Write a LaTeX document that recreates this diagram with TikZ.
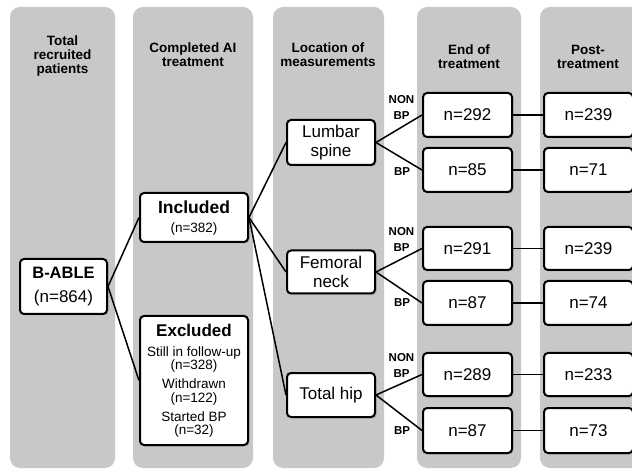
\documentclass[tikz,border=0pt]{standalone}
\usepackage{fontspec}
\setmainfont{Liberation Sans}
\usetikzlibrary{shadows}
\definecolor{colbg}{RGB}{200,200,200}
\tikzset{
  colbox/.style={fill=colbg, draw=none, rounded corners=10pt},
  head/.style={font=\fontsize{13.5}{14}\selectfont\bfseries, align=center, inner sep=0pt},
  wbox/.style={draw=black, line width=2pt, fill=white, rounded corners=4pt,
     drop shadow={opacity=0.35, shadow xshift=1.5pt, shadow yshift=-1.5pt},
     inner sep=0pt, align=center, font=\fontsize{17}{19}\selectfont},
  txt/.style={inner sep=0pt, align=center},
  bplab/.style={font=\fontsize{11.5}{16}\selectfont\bfseries, align=center, inner sep=0pt},
  conn/.style={draw=black, line width=1.5pt},
}
\begin{document}
\begin{tikzpicture}[x=1pt,y=-1pt]
\useasboundingbox (0,0) rectangle (632,470);
\begin{scope}
\clip (0,0) rectangle (632,470);
% columns
\fill[colbox] (10,7) rectangle (115,468);
\fill[colbox] (133,7) rectangle (253,468);
\fill[colbox] (273,7) rectangle (384,468);
\fill[colbox] (417,7) rectangle (521,468);
\fill[colbox] (540,7) rectangle (660,468);
% headings
\node[head] (h1) at (62.5,56) {Total\\recruited\\patients};
\node[head] (h2) at (193,55) {Completed AI\\treatment};
\node[head] (h3) at (328,55) {Location of\\measurements};
\node[head] (h4) at (469,56.5) {End of\\treatment};
\node[head] (h5) at (588,56.5) {Post-\\treatment};
% first column
\node[wbox, minimum width=87pt, minimum height=55pt] (bable) at (63.5,286.5) {};
\node[txt, font=\fontsize{16.5}{17}\selectfont\bfseries] (bablet) at (63.5,273) {B-ABLE};
\node[txt, font=\fontsize{17}{17}\selectfont] (bablen) at (63.5,298) {(n=864)};
% second column
\node[wbox, minimum width=108pt, minimum height=49pt] (inc) at (194,217.5) {};
\node[txt, font=\fontsize{17.5}{17}\selectfont\bfseries] (inct) at (194,207) {Included};
\node[txt, font=\fontsize{13.5}{14}\selectfont] (incn) at (194,229) {(n=382)};
\node[wbox, minimum width=108pt, minimum height=129pt] (exc) at (194,380.5) {};
\node[txt, font=\fontsize{17}{17}\selectfont\bfseries] (exct) at (194,330) {Excluded};
\node[txt, font=\fontsize{13.5}{13.5}\selectfont] (exc1) at (194,359.5) {Still in follow-up\\(n=328)};
\node[txt, font=\fontsize{13.5}{13.5}\selectfont] (exc2) at (194,392) {Withdrawn\\(n=122)};
\node[txt, font=\fontsize{13.5}{13.5}\selectfont] (exc3) at (194,424.5) {Started BP\\(n=32)};
% third column
\node[wbox, minimum width=88pt, minimum height=45pt] (lum) at (331,142.5) {Lumbar\\spine};
\node[wbox, minimum width=88pt, minimum height=43pt] (fem) at (331,272) {Femoral\\neck};
\node[wbox, minimum width=88pt, minimum height=44pt] (hip) at (331,395) {Total hip};
% end of treatment
\node[wbox, minimum width=89pt, minimum height=44pt] (e1) at (467.5,115) {n=292};
\node[wbox, minimum width=89pt, minimum height=44pt] (e2) at (467.5,170) {n=85};
\node[wbox, minimum width=89pt, minimum height=43pt] (e3) at (467.5,248.5) {n=291};
\node[wbox, minimum width=89pt, minimum height=44pt] (e4) at (467.5,303) {n=87};
\node[wbox, minimum width=89pt, minimum height=43pt] (e5) at (467.5,374.5) {n=289};
\node[wbox, minimum width=89pt, minimum height=45pt] (e6) at (467.5,430.5) {n=87};
% post treatment
\node[wbox, minimum width=89pt, minimum height=44pt] (p1) at (588.5,115) {n=239};
\node[wbox, minimum width=89pt, minimum height=44pt] (p2) at (588.5,170) {n=71};
\node[wbox, minimum width=89pt, minimum height=43pt] (p3) at (588.5,248.5) {n=239};
\node[wbox, minimum width=89pt, minimum height=44pt] (p4) at (588.5,303) {n=74};
\node[wbox, minimum width=89pt, minimum height=43pt] (p5) at (588.5,374.5) {n=233};
\node[wbox, minimum width=89pt, minimum height=45pt] (p6) at (588.5,430.5) {n=73};
% BP labels
\node[bplab] (b1) at (401.5,107) {NON\\BP};
\node[bplab] (b2) at (402,172) {BP};
\node[bplab] (b3) at (401.5,239.5) {NON\\BP};
\node[bplab] (b4) at (402,303) {BP};
\node[bplab] (b5) at (401.5,365) {NON\\BP};
\node[bplab] (b6) at (402,431) {BP};
% connectors
\draw[conn] (bable.east) -- (inc.west);
\draw[conn] (bable.east) -- (exc.west);
\draw[conn] (inc.east) -- (lum.west);
\draw[conn] (inc.east) -- (fem.west);
\draw[conn] (inc.east) -- (hip.west);
\draw[conn] (lum.east) -- (e1.west);
\draw[conn] (lum.east) -- (e2.west);
\draw[conn] (fem.east) -- (e3.west);
\draw[conn] (fem.east) -- (e4.west);
\draw[conn] (hip.east) -- (e5.west);
\draw[conn] (hip.east) -- (e6.west);
\draw[conn] (e1.east) -- (p1.west);
\draw[conn] (e2.east) -- (p2.west);
\draw[conn] (e3.east) -- (p3.west);
\draw[conn] (e4.east) -- (p4.west);
\draw[conn] (e5.east) -- (p5.west);
\draw[conn] (e6.east) -- (p6.west);
\end{scope}
\end{tikzpicture}
\end{document}
